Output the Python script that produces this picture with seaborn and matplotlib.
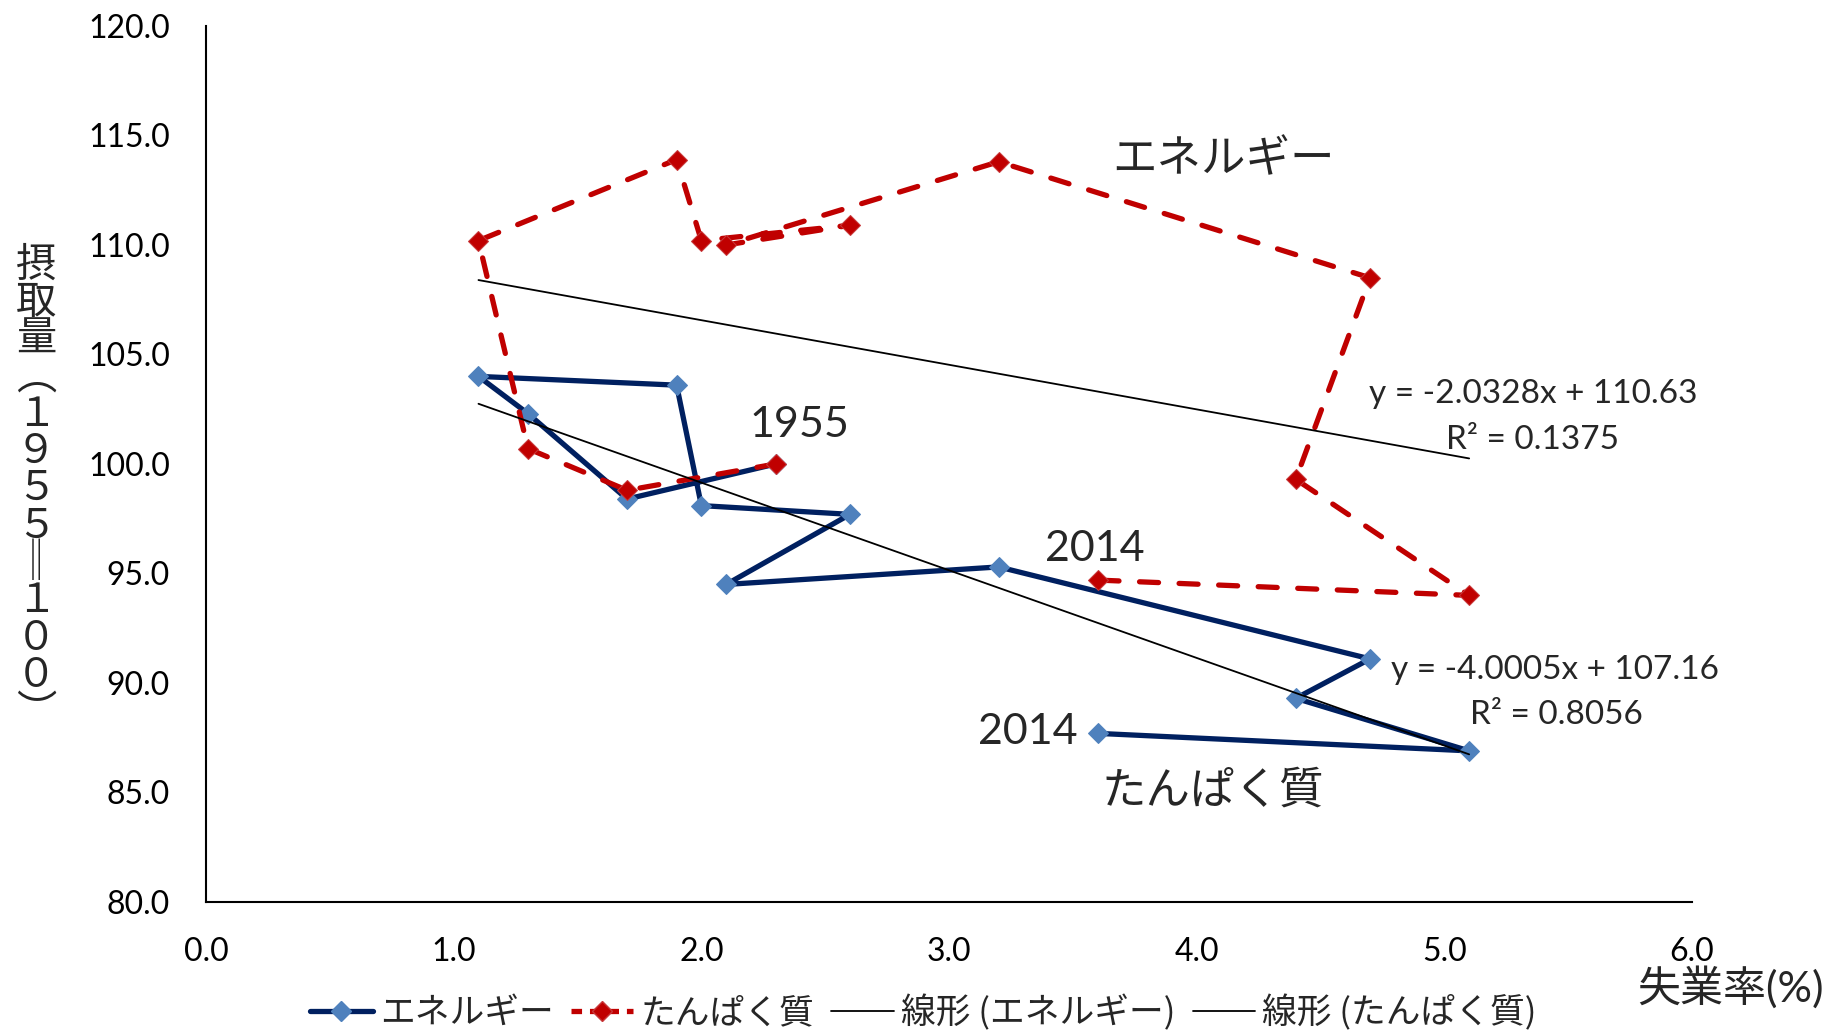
import numpy as np
import pandas as pd
import matplotlib
matplotlib.use("Agg")
import matplotlib.pyplot as plt
import seaborn as sns
from matplotlib.lines import Line2D

# ---- data ----
unemployment = [2.3, 1.7, 1.3, 1.1, 1.9, 2.0, 2.6, 2.1, 3.2, 4.7, 4.4, 5.1, 3.6]
energy = [100.0, 98.4, 102.3, 104.0, 103.6, 98.1, 97.7, 94.5, 95.3, 91.1, 89.3, 86.9, 87.7]
protein = [100.0, 98.8, 100.7, 110.2, 113.9, 110.2, 110.9, 110.0, 113.8, 108.5, 99.3, 94.0, 94.7]

series_names = ["エネルギー", "たんぱく質"]
trend_names = ["線形 (エネルギー)", "線形 (たんぱく質)"]
eq_energy = ["y = -4.0005x + 107.16", "R² = 0.8056"]
eq_protein = ["y = -2.0328x + 110.63", "R² = 0.1375"]
x_ticks = [0, 1, 2, 3, 4, 5, 6]
y_ticks = [80, 85, 90, 95, 100, 105, 110, 115, 120]
# vertical writing of 摂取量（１９５５＝１００）
ylabel_chars = ["摂", "取", "量", "︵", "１", "９", "５", "５", "‖", "１", "０", "０", "︶"]
xlabel = "失業率(%)"

df = pd.DataFrame({"x": unemployment, "energy": energy, "protein": protein})

sns.set_style("white")
plt.rcParams["font.family"] = ["Lato", "Noto Sans CJK JP", "DejaVu Sans"]
JP = ["Noto Sans CJK JP", "DejaVu Sans"]

fig = plt.figure(figsize=(18.43, 10.35), dpi=100)
ax = fig.add_axes([0.1118, 0.1285, 0.8063, 0.8464])

BLUE_LINE = "#002060"
BLUE_MARK = "#4F81BD"
RED_LINE = "#C00000"
RED_EDGE = "#C8383A"

sns.lineplot(data=df, x="x", y="energy", sort=False, estimator=None, ax=ax,
             color=BLUE_LINE, linewidth=3.8, marker="D", markersize=10.5,
             markerfacecolor=BLUE_MARK, markeredgecolor=BLUE_MARK, zorder=2)
blue_line = ax.lines[-1]
sns.lineplot(data=df, x="x", y="protein", sort=False, estimator=None, ax=ax,
             color=RED_LINE, linewidth=3.8, marker="D", markersize=10.5,
             markerfacecolor=RED_LINE, markeredgecolor=RED_EDGE, zorder=3)
red_line = ax.lines[-1]
red_line.set_dashes((3.6, 3.9))
red_line.set_dash_capstyle("round")

sns.regplot(data=df, x="x", y="energy", scatter=False, ci=None, truncate=True, ax=ax,
            line_kws=dict(color="black", linewidth=1.3, zorder=4))
sns.regplot(data=df, x="x", y="protein", scatter=False, ci=None, truncate=True, ax=ax,
            line_kws=dict(color="black", linewidth=1.3, zorder=4))

ax.set_xlim(0, 6)
ax.set_ylim(80, 120)
ax.set_xticks(x_ticks)
ax.set_yticks(y_ticks)
ax.set_xticklabels([f"{v:.1f}" for v in x_ticks])
ax.set_yticklabels([f"{v:.1f}" for v in y_ticks])
ax.set_xlabel("")
ax.set_ylabel("")
for s in ["top", "right"]:
    ax.spines[s].set_visible(False)
for s in ["left", "bottom"]:
    ax.spines[s].set_linewidth(1.5)
    ax.spines[s].set_color("black")
ax.tick_params(axis="both", direction="in", length=8, width=1.5, colors="black",
               labelsize=23, pad=25)
ax.tick_params(axis="y", pad=26)

# annotations
ax.text(2.394, 101.78, "1955", fontsize=31, ha="center", va="center")
ax.text(3.589, 96.12, "2014", fontsize=31, ha="center", va="center")
ax.text(3.319, 87.76, "2014", fontsize=31, ha="center", va="center")
ax.text(4.11, 113.93, series_names[0], fontsize=32, ha="center", va="center", family=JP)
ax.text(4.065, 85.1, series_names[1], fontsize=32, ha="center", va="center", family=JP)

ax.text(5.357, 103.20, eq_protein[0], fontsize=24, ha="center", va="center")
ax.text(5.357, 101.10, eq_protein[1], fontsize=24, ha="center", va="center")
ax.text(5.446, 90.60, eq_energy[0], fontsize=24, ha="center", va="center")
ax.text(5.454, 88.54, eq_energy[1], fontsize=24, ha="center", va="center")

# vertical y label
y0 = 1 - 265 / 1035
step = 37.3 / 1035
for i, ch in enumerate(ylabel_chars):
    fig.text(36 / 1843, y0 - i * step, ch, fontsize=29, ha="center", va="center", family=JP)

fig.text(1730 / 1843, 1 - 987 / 1035, xlabel, fontsize=31, ha="center", va="center",
         family=["Lato", "Noto Sans CJK JP", "DejaVu Sans"])

# legend
h_blue = Line2D([], [], color=BLUE_LINE, lw=3.8, marker="D", markersize=10.5,
                markerfacecolor=BLUE_MARK, markeredgecolor=BLUE_MARK)
h_red = Line2D([], [], color=RED_LINE, lw=3.8, marker="D", markersize=10.5,
               markerfacecolor=RED_LINE, markeredgecolor=RED_EDGE, dashes=(2.0, 1.5))
h_t1 = Line2D([], [], color="black", lw=1.3)
h_t2 = Line2D([], [], color="black", lw=1.3)
fig.legend([h_blue, h_red, h_t1, h_t2], series_names + trend_names,
           loc="center", bbox_to_anchor=(0.501, 1 - 1013 / 1035), ncol=4,
           frameon=False, prop={"family": JP, "size": 25}, handlelength=1.8,
           handletextpad=0.2, columnspacing=0.5, borderaxespad=0)

fig.savefig("out.png", dpi=100)
